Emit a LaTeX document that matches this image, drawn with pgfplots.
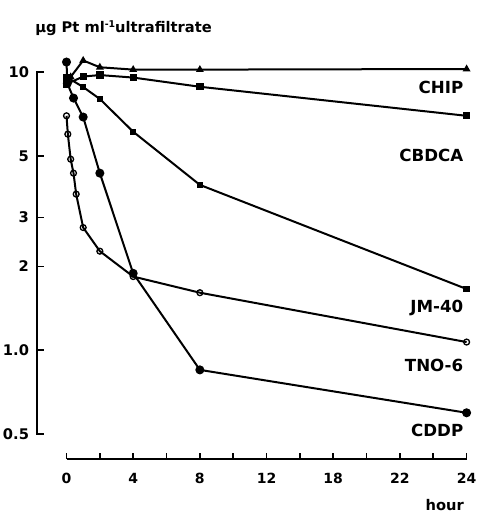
\documentclass[border=0pt]{standalone}
\usepackage{fontspec}
\setmainfont{DejaVu Sans}
\usepackage{pgfplots}
\pgfplotsset{compat=1.18}
\usetikzlibrary{calc}

\begin{document}
\begin{tikzpicture}[font=\bfseries]
\path[use as bounding box] (-27.75pt,-63pt) rectangle (331.5pt,325.5pt);
\begin{axis}[
  name=main,
  scale only axis,
  width=322.2pt, height=271.5pt,
  at={(0,0)}, anchor=south west,
  ymode=log,
  xmin=-1.77, xmax=24,
  ymin=0.5, ymax=10,
  clip=false,
  axis line style={draw=none},
  xtick=\empty,
  ytick={0.5,1,2,3,5,10},
  yticklabels={0.5,1.0,2,3,5,10},
  yminorticks=false,
  major tick length=0pt,
  ytick pos=left,
  yticklabel style={font=\fontsize{11}{11}\selectfont\bfseries, xshift=-2.5pt},
  every axis plot/.append style={line width=1.5pt, black},
]
% CHIP
\addplot[mark=triangle*, mark size=1.9pt] coordinates {
  (0.25,9.6) (1,11.0) (2,10.4) (4,10.2) (8,10.2) (24,10.25)};
% CBDCA
\addplot[mark=square*, mark size=2.0pt] coordinates {
  (0,9.05) (1,9.63) (2,9.75) (4,9.55) (8,8.85) (24,6.96)};
% JM-40
\addplot[mark=square*, mark size=1.6pt] coordinates {
  (0,9.6) (1,8.83) (2,8.0) (4,6.1) (8,3.93) (24,1.66)};
% TNO-6
\addplot[mark=o, mark size=2.2pt, mark options={fill=white, line width=1pt}] coordinates {
  (0,6.96) (0.08,5.98) (0.25,4.86) (0.42,4.33) (0.58,3.64)
  (1,2.76) (2,2.27) (4,1.84) (8,1.61) (24,1.07)};
% CDDP
\addplot[mark=*, mark size=2.6pt] coordinates {
  (0,10.86) (0.05,9.1) (0.42,8.06) (1,6.89) (2,4.33) (4,1.89) (8,0.85) (24,0.596)};

% reference points for the hand-drawn axes
\coordinate (y1)  at (axis cs:0,1);
\coordinate (y2)  at (axis cs:0,2);
\coordinate (y3)  at (axis cs:0,3);
\coordinate (y5)  at (axis cs:0,5);
\coordinate (h0)  at (axis cs:0,0.5);
\coordinate (h24) at (axis cs:24,0.5);

% series names at the right-hand end
\begin{scope}[every node/.style={anchor=east, xshift=1pt, font=\fontsize{12.5}{12.5}\selectfont\bfseries}]
  \node at (axis cs:24,8.83)  {CHIP};
  \node at (axis cs:24,5.03)  {CBDCA};
  \node at (axis cs:24,1.42)  {JM-40};
  \node at (axis cs:24,0.885) {TNO-6};
  \node at (axis cs:24,0.516) {CDDP};
\end{scope}
\end{axis}

% value axis with inward ticks (the axis box runs from (0,0) to (322.2pt,271.5pt))
\draw[black, line width=1.8pt] (5pt,0pt) -- (0pt,0pt) -- (0pt,271.5pt) -- (5pt,271.5pt);
\foreach \c in {y1,y2,y3,y5}
  \draw[line width=1.3pt] (0pt,0pt |- \c) -- (5pt,0pt |- \c);

% detached time axis below the plot
\draw[line width=1.5pt] ($(h0)+(0pt,-18.75pt)$) -- ($(h24)+(0pt,-18.75pt)$);
\foreach \i in {0,...,12}
  \draw[line width=1.2pt] ($(h0)!\i/12!(h24)+(0pt,-18.75pt)$) -- ++(0pt,4.5pt);
\foreach \i/\lab in {0/0,2/4,4/8,6/12,8/18,10/22,12/24}
  \node[font=\fontsize{10.5}{10.5}\selectfont\bfseries] at ($(h0)!\i/12!(h24)+(0pt,-33pt)$) {\lab};
\node[anchor=east, font=\fontsize{11}{11}\selectfont\bfseries]
  at ($(h24)+(1.5pt,-53.25pt)$) {hour};

% unit label above the value axis
\node[anchor=base west, inner sep=0pt, font=\fontsize{11}{11}\selectfont\bfseries]
  at (-1.5pt,300.75pt)
  {µg Pt ml\raisebox{0.65ex}{\fontsize{7}{7}\selectfont -1}ultrafiltrate};
\end{tikzpicture}
\end{document}
